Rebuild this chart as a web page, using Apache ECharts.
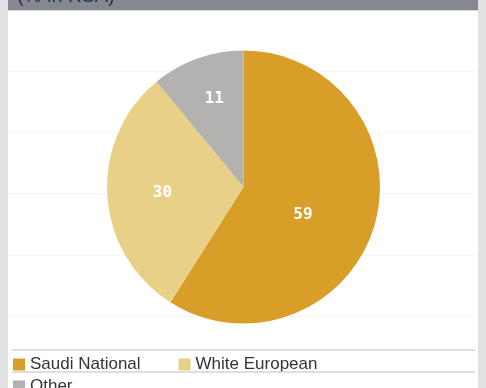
<!DOCTYPE html>
<html>
<head>
    <meta charset='utf-8'>
    <title>(% in KSA)</title>
    <script src='https://cdn.jsdelivr.net/npm/echarts@6/dist/echarts.min.js'></script>
    <style>
        html, body { margin: 0; padding: 0; }
        #main { width: 486px; height: 388px; }
    </style>
</head>
<body>
    <div id='main'></div>
    <script type='text/javascript'>
        // data
        var categories = ['Saudi National', 'White European', 'Other'];
        var values = [59, 30, 11];
        var colors = ['#d89e27', '#e8d186', '#b3b2b1'];
        var titleText = '(% in KSA)';

        // label nudges, to sit where the original put them
        var labelOffsets = [[-9, 8], [-10, 1], [-5, -21]];

        var pieData = categories.map(function (name, i) {
            return {
                name: name,
                value: values[i],
                itemStyle: { color: colors[i] },
                label: { offset: labelOffsets[i] }
            };
        });

        var myChart = echarts.init(document.getElementById('main'));

        var option = {
            backgroundColor: '#e1e1e1',
            animation: false,
            graphic: [
                { type: 'rect', z: -5, shape: { x: 8, y: 0, width: 470, height: 388 }, style: { fill: '#ffffff' } },
                { type: 'rect', z: 10, shape: { x: 8, y: 0, width: 470, height: 10 }, style: { fill: '#868890' } },
                { type: 'line', z: 10, shape: { x1: 8, y1: 10.5, x2: 478, y2: 10.5 }, style: { stroke: '#d6d6d6', lineWidth: 1 } },
                {
                    type: 'text', z: 11, left: 17, top: -14,
                    style: { text: titleText, fill: '#27315a', font: '20px "Liberation Sans", Arial, sans-serif' }
                },
                { type: 'line', z: 10, shape: { x1: 12, y1: 350, x2: 475, y2: 350 }, style: { stroke: '#d3d3d3', lineWidth: 1.5 } },
                { type: 'line', z: 10, shape: { x1: 12, y1: 372, x2: 475, y2: 372 }, style: { stroke: '#d3d3d3', lineWidth: 1.5 } }
            ],
            grid: { left: 8, right: 8, top: 71, height: 245 },
            xAxis: { type: 'value', show: false },
            yAxis: {
                type: 'value', min: 0, max: 4, interval: 1,
                axisLine: { show: false }, axisTick: { show: false }, axisLabel: { show: false },
                splitLine: { lineStyle: { color: '#f5f5f5', width: 1 } }
            },
            legend: [
                {
                    data: ['Saudi National', 'White European'],
                    left: 8, top: 351,
                    icon: 'rect', itemWidth: 12, itemHeight: 12, itemGap: 38,
                    textStyle: { fontSize: 17, color: '#333333', fontFamily: '"Liberation Sans", Arial, sans-serif' }
                },
                {
                    data: ['Other'],
                    left: 8, top: 373,
                    icon: 'rect', itemWidth: 12, itemHeight: 12,
                    textStyle: { fontSize: 17, color: '#333333', fontFamily: '"Liberation Sans", Arial, sans-serif' }
                }
            ],
            series: [{
                type: 'pie',
                center: [243.5, 187],
                radius: 136.5,
                startAngle: 90,
                clockwise: true,
                silent: true,
                label: {
                    position: 'inside',
                    formatter: '{c}',
                    color: '#ffffff',
                    fontSize: 16,
                    fontWeight: 'bold',
                    fontFamily: '"DejaVu Sans Mono", monospace'
                },
                labelLine: { show: false },
                itemStyle: { borderWidth: 0 },
                data: pieData
            }]
        };

        myChart.setOption(option);
    </script>
</body>
</html>
